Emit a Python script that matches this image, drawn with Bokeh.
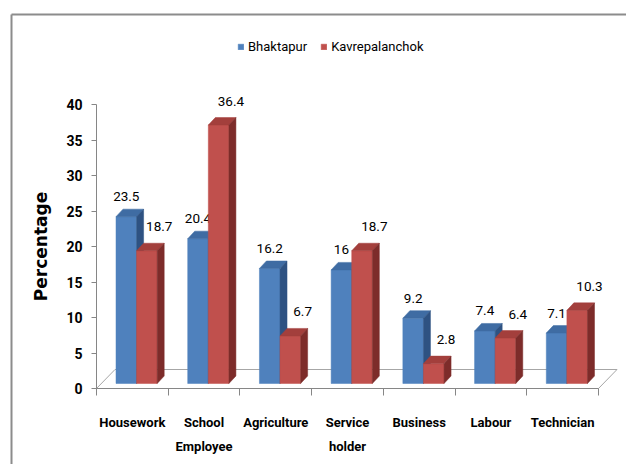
from bokeh.plotting import figure
from bokeh.models import Range1d, LinearAxis, FixedTicker, Legend, LegendItem
from bokeh.core.properties import value
from bokeh.embed import file_html
from bokeh.resources import INLINE

# ---- data ----
categories = ["Housework", "School\nEmployee", "Agriculture", "Service\nholder",
              "Business", "Labour", "Technician"]
bhaktapur = [23.5, 20.4, 16.2, 16, 9.2, 7.4, 7.1]
kavrepalanchok = [18.7, 36.4, 6.7, 18.7, 2.8, 6.4, 10.3]
series_names = ["Bhaktapur", "Kavrepalanchok"]
y_ticks = [0, 5, 10, 15, 20, 25, 30, 35, 40]

# ---- geometry (pixel scale of the reference) ----
W, H = 626, 464
PX_X = 502 / 7.0          # pixels per category
PX_Y = 7.1                # pixels per percentage point
x0 = -96 / PX_X
x1 = x0 + W / PX_X
y0 = -(H - 388) / PX_Y
y1 = y0 + H / PX_Y

FONT = "Roboto"

p = figure(width=W, height=H, x_range=Range1d(x0, x1), y_range=Range1d(y0, y1),
           output_backend="svg", toolbar_location=None,
           x_axis_type=None, y_axis_type=None,
           min_border=0, min_border_left=0, min_border_right=0,
           min_border_top=0, min_border_bottom=0)
p.outline_line_color = None
p.background_fill_color = "white"
p.border_fill_color = "white"

# outer chart border (top and left visible)
bx = x0 + 11 / PX_X
by = y1 - 14 / PX_Y
p.segment(x0=[bx, bx], y0=[by, by], x1=[bx, x1], y1=[y0, by],
          line_color="#8C8C8C", line_width=2)

# 3D floor
n = len(categories)
FDX = 18.5 / PX_X
FDY = 19 / PX_Y
p.segment(x0=[0, n, FDX], y0=[0, 0, FDY], x1=[FDX, n + FDX, n + FDX], y1=[FDY, FDY, FDY],
          line_color="#A6A6A6", line_width=1)

# bars
BASE = 5 / PX_Y
BOFF = 19.5 / PX_X
BW = 20.6 / PX_X
DX = 7 / PX_X
DY = 7.5 / PX_Y

colors = {
    0: ("#4F81BD", "#3F6CA3", "#2E5282"),
    1: ("#C0504D", "#A33F3C", "#7D2C2A"),
}

legend_renderers = []
for s, vals in enumerate([bhaktapur, kavrepalanchok]):
    front, topc, side = colors[s]
    lefts = [i + BOFF + s * BW for i in range(n)]
    rights = [l + BW for l in lefts]
    tops = [BASE + v for v in vals]
    r = p.quad(left=lefts, right=rights, bottom=[BASE] * n, top=tops,
               fill_color=front, line_color=front, line_width=0.5)
    legend_renderers.append(r)
    top_xs = [[l, l + DX, rr + DX, rr] for l, rr in zip(lefts, rights)]
    top_ys = [[t, t + DY, t + DY, t] for t in tops]
    p.patches(top_xs, top_ys, fill_color=topc, line_color=topc, line_width=0.5)
    side_xs = [[rr, rr + DX, rr + DX, rr] for rr in rights]
    side_ys = [[BASE, BASE + DY, t + DY, t] for t in tops]
    p.patches(side_xs, side_ys, fill_color=side, line_color=side, line_width=0.5)
    # data labels
    if s == 0:
        lx = [(l + rr) / 2 for l, rr in zip(lefts, rights)]
        ly = [t + 20 / PX_Y for t in tops]
    else:
        lx = [rr + 2 / PX_X for rr in rights]
        ly = [t + 24 / PX_Y for t in tops]
    p.text(x=lx, y=ly, text=[("%g" % v) for v in vals],
           text_font=value(FONT), text_font_size="13.5px", text_color="black",
           text_align="center", text_baseline="middle")

# y axis
yaxis = LinearAxis(fixed_location=0, bounds=(0, 40), ticker=FixedTicker(ticks=y_ticks))
yaxis.axis_line_color = "#868686"
yaxis.major_tick_line_color = "#868686"
yaxis.major_tick_out = 5
yaxis.major_tick_in = 0
yaxis.minor_tick_out = 0
yaxis.minor_tick_in = 0
yaxis.major_label_standoff = 9
yaxis.major_label_text_font = FONT
yaxis.major_label_text_font_style = "bold"
yaxis.major_label_text_font_size = "14px"
yaxis.major_label_text_color = "black"
yaxis.axis_label = "Percentage"
yaxis.axis_label_text_font = "DejaVu Sans"
yaxis.axis_label_text_font_style = "bold"
yaxis.axis_label_text_font_size = "17px"
yaxis.axis_label_text_color = "black"
yaxis.axis_label_standoff = 12
p.add_layout(yaxis, "left")

# x axis
centers = [i + 0.5 for i in range(n)]
xaxis = LinearAxis(fixed_location=0, bounds=(0, n),
                   ticker=FixedTicker(ticks=centers, minor_ticks=list(range(n + 1))))
xaxis.axis_line_color = "#868686"
xaxis.major_tick_out = 0
xaxis.major_tick_in = 0
xaxis.minor_tick_line_color = "#868686"
xaxis.minor_tick_out = 7
xaxis.minor_tick_in = 0
xaxis.major_label_overrides = {c: lab for c, lab in zip(centers, categories)}
xaxis.major_label_standoff = 19
xaxis.major_label_text_font = FONT
xaxis.major_label_text_font_style = "bold"
xaxis.major_label_text_font_size = "13px"
xaxis.major_label_text_color = "black"
xaxis.major_label_text_line_height = 1.6
p.add_layout(xaxis, "below")

# legend
legend = Legend(items=[LegendItem(label=nm, renderers=[r])
                       for nm, r in zip(series_names, legend_renderers)],
                orientation="horizontal", location=(237, 410))
legend.glyph_width = 7
legend.glyph_height = 7
legend.label_standoff = 4
legend.spacing = 13
legend.padding = 0
legend.margin = 0
legend.border_line_color = None
legend.background_fill_alpha = 0
legend.label_text_font = FONT
legend.label_text_font_size = "13px"
legend.label_text_color = "black"
p.add_layout(legend, "center")

open("out.html", "w").write(file_html(p, INLINE))
